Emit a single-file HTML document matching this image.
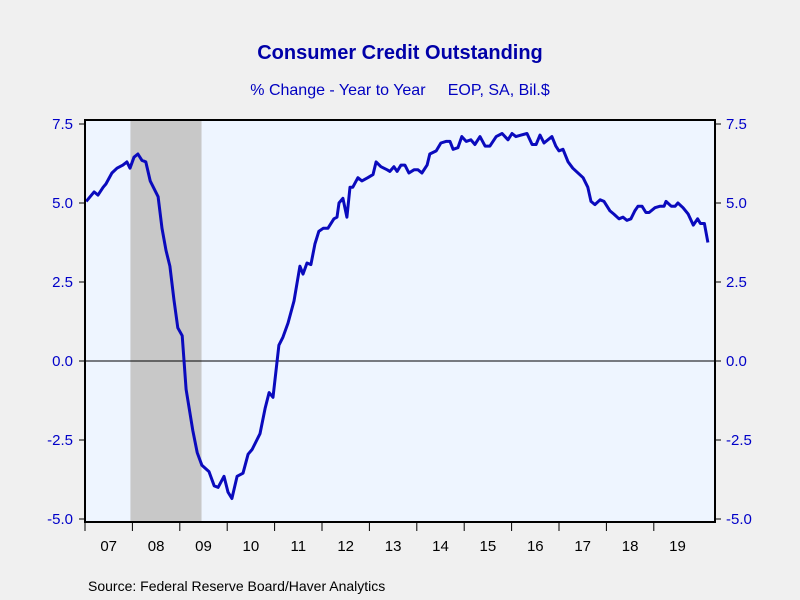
<!DOCTYPE html>
<html><head><meta charset="utf-8"><style>
html,body{margin:0;padding:0;background:#f0f0f0;}
svg{display:block;font-family:"Liberation Sans",sans-serif;}
</style></head><body>
<svg width="800" height="600" viewBox="0 0 800 600">
<rect x="0" y="0" width="800" height="600" fill="#f0f0f0"/>
<text x="400" y="59" text-anchor="middle" font-size="20" font-weight="bold" fill="#0000a8">Consumer Credit Outstanding</text>
<text x="400" y="95" text-anchor="middle" font-size="16" fill="#0000c0" xml:space="preserve" style="white-space:pre">% Change - Year to Year     EOP, SA, Bil.$</text>
<rect x="85" y="120" width="630" height="402" fill="#eef5ff"/>
<g id="rec"></g>
<g id="grid"></g>
<g id="series"></g>
<rect x="85" y="120" width="630" height="402" fill="none" stroke="#000" stroke-width="2"/>
<g id="axes"></g>
<text x="88" y="591" font-size="14" fill="#000">Source:  Federal Reserve Board/Haver Analytics</text>
</svg>
<script>
const months = [0.3,2.3,3.3,4.6,5.3,6.8,8.1,9.6,10.6,11.4,12.4,13.4,14.4,15.4,16.5,18.5,19.5,20.5,21.5,22.5,23.5,24.6,25.6,27.3,28.4,29.6,31.4,32.7,33.7,35.2,36.2,37.2,38.5,40.0,41.3,42.3,44.3,45.6,46.6,47.6,49.1,50.1,51.4,52.9,54.4,55.2,56.2,57.2,58.2,59.2,60.3,61.5,63.0,63.8,64.3,65.3,66.3,67.1,67.8,69.1,70.1,71.6,72.9,73.7,74.9,76.5,77.2,78.2,79.0,80.0,81.0,82.0,83.3,84.3,85.3,86.6,87.3,88.9,90.1,91.4,92.4,93.2,94.4,95.4,96.5,97.7,98.7,100.0,101.3,102.5,104.1,105.6,107.1,108.1,109.1,110.4,111.9,113.2,114.2,115.2,116.2,118.2,119.2,120.0,121.0,122.3,123.5,126.1,127.3,128.1,129.1,130.4,131.4,132.9,133.9,135.2,136.2,137.2,138.2,139.2,140.0,141.0,142.0,142.8,144.3,145.6,146.6,147.1,148.4,149.4,150.1,151.4,152.7,154.0,155.1,155.8,156.8,157.7];
const values = [5.05,5.35,5.25,5.5,5.6,5.95,6.1,6.2,6.3,6.1,6.45,6.55,6.35,6.3,5.7,5.2,4.2,3.5,3.0,1.95,1.05,0.8,-0.9,-2.2,-2.9,-3.3,-3.5,-3.95,-4.0,-3.65,-4.15,-4.35,-3.65,-3.55,-2.95,-2.8,-2.3,-1.5,-1.0,-1.15,0.5,0.75,1.2,1.9,3.0,2.75,3.1,3.05,3.7,4.1,4.2,4.2,4.5,4.55,5.0,5.15,4.55,5.5,5.5,5.8,5.7,5.8,5.9,6.3,6.15,6.05,6.0,6.15,6.0,6.2,6.2,5.95,6.05,6.05,5.95,6.2,6.55,6.65,6.9,6.95,6.95,6.7,6.75,7.1,6.95,7.0,6.85,7.1,6.8,6.8,7.1,7.2,7.0,7.2,7.1,7.15,7.2,6.85,6.85,7.15,6.9,7.1,6.8,6.65,6.7,6.3,6.1,5.8,5.5,5.05,4.95,5.1,5.05,4.75,4.65,4.5,4.55,4.45,4.5,4.75,4.9,4.9,4.7,4.7,4.85,4.9,4.9,5.05,4.9,4.9,5.0,4.85,4.65,4.3,4.5,4.35,4.35,3.75];
const yTicks = [7.5,5.0,2.5,0.0,-2.5,-5.0];
const yearLabels = ["07","08","09","10","11","12","13","14","15","16","17","18","19"];
const recessionStart = 11.5, recessionEnd = 29.5;

const NS="http://www.w3.org/2000/svg";
const x0=85, pxPerMonth=3.95, yTop=124, yBot=519, vTop=7.5, vBot=-5.0;
function xScale(m){return x0+m*pxPerMonth;}
function yScale(v){return yTop+(vTop-v)/(vTop-vBot)*(yBot-yTop);}
function mk(tag,attrs,parent){const e=document.createElementNS(NS,tag);for(const k in attrs)e.setAttribute(k,attrs[k]);parent.appendChild(e);return e;}

const rec=document.getElementById('rec');
const rr=mk('rect',{x:xScale(recessionStart),y:121,width:xScale(recessionEnd)-xScale(recessionStart),height:400,fill:'#c8c8c8'},rec);



const grid=document.getElementById('grid');
const zl=mk('line',{x1:85,x2:715,y1:yScale(0),y2:yScale(0),stroke:'#000','stroke-width':1},grid);



const series=document.getElementById('series');
let d='';
for(let i=0;i<values.length;i++){d+=(i?'L':'M')+xScale(months[i]).toFixed(1)+','+yScale(values[i]).toFixed(1);}
const path=mk('path',{d:d,fill:'none',stroke:'#0a0abd','stroke-width':3,'stroke-linejoin':'round'},series);



const axes=document.getElementById('axes');
yTicks.forEach(v=>{
  const y=yScale(v);
  const lt=mk('line',{x1:79,x2:85,y1:y,y2:y,stroke:'#000','stroke-width':1},axes);
  
  
  const rt=mk('line',{x1:715,x2:721,y1:y,y2:y,stroke:'#000','stroke-width':1},axes);
  
  
  const l=mk('text',{x:73,y:y+5,'text-anchor':'end','font-size':15,fill:'#0000c8'},axes);
  l.textContent=v.toFixed(1);
  
  
  const r=mk('text',{x:726,y:y+5,'text-anchor':'start','font-size':15,fill:'#0000c8'},axes);
  r.textContent=v.toFixed(1);
  
  
});
yearLabels.forEach((lab,i)=>{
  const xb=xScale(i*12);
  const t=mk('line',{x1:xb,x2:xb,y1:522,y2:531,stroke:'#000','stroke-width':1},axes);
  
  
  const tx=mk('text',{x:xScale(i*12+6),y:551,'text-anchor':'middle','font-size':15,fill:'#000'},axes);
  tx.textContent=lab;
  
  
});
</script>
</body></html>
